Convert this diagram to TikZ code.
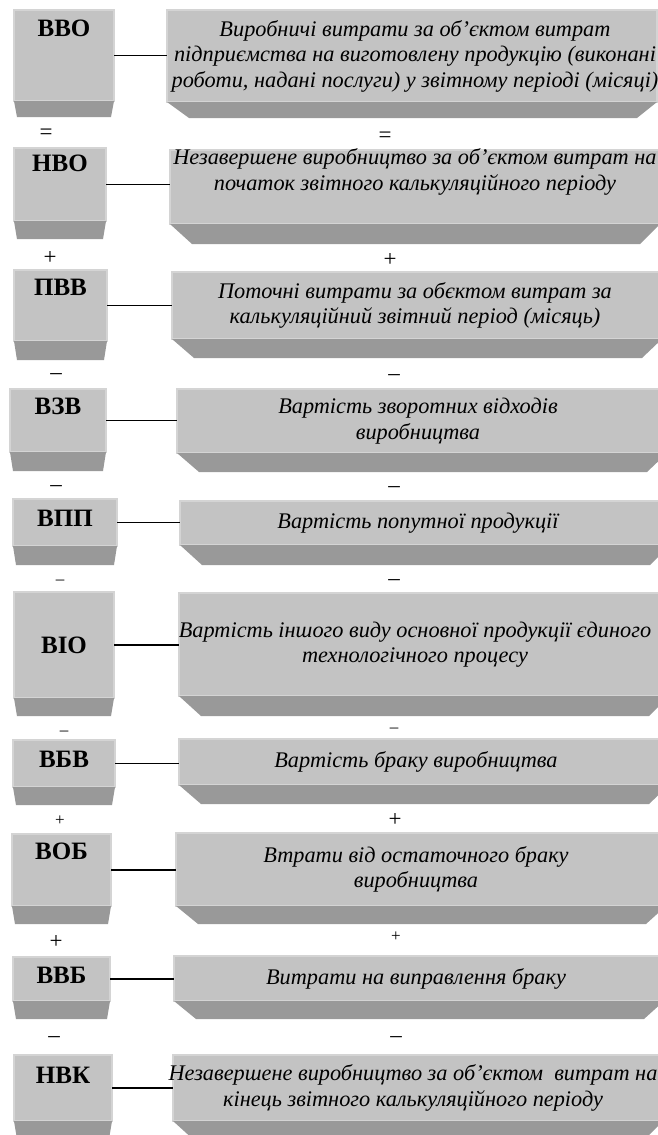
\documentclass[tikz,border=0pt]{standalone}
\usepackage{fontspec}
\setmainfont{Liberation Serif}
\usetikzlibrary{positioning}
\definecolor{boxgrey}{HTML}{C3C3C3}
\definecolor{boxrim}{HTML}{D4D4D4}
\definecolor{boxdark}{HTML}{999999}
\begin{document}
\begin{tikzpicture}[x=1pt,y=-1pt]
  % Define styles for nodes
  \tikzstyle{lbox} = [anchor=north west, rectangle, fill=boxgrey, draw=boxrim,
  line width=1.5pt, outer sep=0pt, inner sep=0pt]
  \tikzstyle{rbox} = [lbox, minimum width=490pt]
  \tikzstyle{rtext} = [inner sep=0pt, align=center,
  font=\fontsize{22.3}{25.5}\selectfont\itshape]
  \tikzstyle{lbl} = [inner sep=0pt, font=\fontsize{25}{28}\selectfont\bfseries]
  \tikzstyle{sign} = [inner sep=0pt, font=\fontsize{23}{24}\selectfont]
  \tikzstyle{small sign} = [inner sep=0pt, font=\fontsize{17}{18}\selectfont]
  \tikzstyle{skirt} = [fill=boxdark]
  \tikzstyle{link} = [line width=1.1pt]

  \useasboundingbox[fill=white] (0,0) rectangle (657,1135);

  % Left boxes
  \node[lbox, minimum width=100pt, minimum height=91pt] (vvo) at (14,10) {};
  \node[lbox, minimum width=92pt, minimum height=73pt] (nvo) at (14,148) {};
  \node[lbox, minimum width=93pt, minimum height=71pt] (pvv) at (14,270) {};
  \node[lbox, minimum width=96pt, minimum height=63pt] (vzv) at (10,389) {};
  \node[lbox, minimum width=104pt, minimum height=47pt] (vpp) at (13,499) {};
  \node[lbox, minimum width=100pt, minimum height=106pt] (vio) at (14,592) {};
  \node[lbox, minimum width=102pt, minimum height=47pt] (vbv) at (13,740) {};
  \node[lbox, minimum width=99pt, minimum height=72pt] (vob) at (12,834) {};
  \node[lbox, minimum width=97pt, minimum height=44pt] (vvb) at (13,957) {};
  \node[lbox, minimum width=98pt, minimum height=66pt] (nvk) at (14,1055) {};

  % Dark bottoms of the left boxes
  \fill[skirt] (vvo.south west) -- (vvo.south east) -- ([shift={(-3,16)}]vvo.south east) -- ([shift={(3,16)}]vvo.south west) -- cycle;
  \fill[skirt] (nvo.south west) -- (nvo.south east) -- ([shift={(-3,18)}]nvo.south east) -- ([shift={(3,18)}]nvo.south west) -- cycle;
  \fill[skirt] (pvv.south west) -- (pvv.south east) -- ([shift={(-3,19)}]pvv.south east) -- ([shift={(3,19)}]pvv.south west) -- cycle;
  \fill[skirt] (vzv.south west) -- (vzv.south east) -- ([shift={(-3,19)}]vzv.south east) -- ([shift={(3,19)}]vzv.south west) -- cycle;
  \fill[skirt] (vpp.south west) -- (vpp.south east) -- ([shift={(-3,19)}]vpp.south east) -- ([shift={(3,19)}]vpp.south west) -- cycle;
  \fill[skirt] (vio.south west) -- (vio.south east) -- ([shift={(-3,18)}]vio.south east) -- ([shift={(3,18)}]vio.south west) -- cycle;
  \fill[skirt] (vbv.south west) -- (vbv.south east) -- ([shift={(-3,18)}]vbv.south east) -- ([shift={(3,18)}]vbv.south west) -- cycle;
  \fill[skirt] (vob.south west) -- (vob.south east) -- ([shift={(-3,18)}]vob.south east) -- ([shift={(3,18)}]vob.south west) -- cycle;
  \fill[skirt] (vvb.south west) -- (vvb.south east) -- ([shift={(-3,18)}]vvb.south east) -- ([shift={(3,18)}]vvb.south west) -- cycle;
  \fill[skirt] (nvk.south west) -- (nvk.south east) -- ([shift={(-3,18)}]nvk.south east) -- ([shift={(3,18)}]nvk.south west) -- cycle;

  % Labels of the left boxes
  \node[lbl, below=10pt of vvo.north] (vvo-l) {ВВО};
  \node[lbl, below=7pt of nvo.north] (nvo-l) {НВО};
  \node[lbl, below=9pt of pvv.north] (pvv-l) {ПВВ};
  \node[lbl, below=9pt of vzv.north] (vzv-l) {ВЗВ};
  \node[lbl, below=11pt of vpp.north] (vpp-l) {ВПП};
  \node[lbl] (vio-l) at (vio) {ВІО};
  \node[lbl, below=11pt of vbv.north] (vbv-l) {ВБВ};
  \node[lbl, below=9pt of vob.north] (vob-l) {ВОБ};
  \node[lbl, below=10pt of vvb.north] (vvb-l) {ВВБ};
  \node[lbl, below=12pt of nvk.north] (nvk-l) {НВК};

  % Right boxes
  \node[rbox, minimum height=92pt] (vvo-r) at (167,10) {};
  \node[rbox, minimum height=74pt] (nvo-r) at (170,150) {};
  \node[rbox, minimum height=67pt] (pvv-r) at (172,272) {};
  \node[rbox, minimum height=64pt] (vzv-r) at (177,389) {};
  \node[rbox, minimum height=44pt] (vpp-r) at (180,501) {};
  \node[rbox, minimum height=103pt] (vio-r) at (179,593) {};
  \node[rbox, minimum height=46pt] (vbv-r) at (179,739) {};
  \node[rbox, minimum height=73pt] (vob-r) at (176,833) {};
  \node[rbox, minimum height=45pt] (vvb-r) at (174,956) {};
  \node[rbox, minimum height=66pt] (nvk-r) at (173,1055) {};

  % Dark bottoms of the right boxes
  \fill[skirt] (vvo-r.south west) -- (vvo-r.south east) -- ([shift={(-20,16)}]vvo-r.south east) -- ([shift={(22,16)}]vvo-r.south west) -- cycle;
  \fill[skirt] (nvo-r.south west) -- (nvo-r.south east) -- ([shift={(-20,20)}]nvo-r.south east) -- ([shift={(22,20)}]nvo-r.south west) -- cycle;
  \fill[skirt] (pvv-r.south west) -- (pvv-r.south east) -- ([shift={(-20,19)}]pvv-r.south east) -- ([shift={(22,19)}]pvv-r.south west) -- cycle;
  \fill[skirt] (vzv-r.south west) -- (vzv-r.south east) -- ([shift={(-20,19)}]vzv-r.south east) -- ([shift={(22,19)}]vzv-r.south west) -- cycle;
  \fill[skirt] (vpp-r.south west) -- (vpp-r.south east) -- ([shift={(-20,20)}]vpp-r.south east) -- ([shift={(22,20)}]vpp-r.south west) -- cycle;
  \fill[skirt] (vio-r.south west) -- (vio-r.south east) -- ([shift={(-20,20)}]vio-r.south east) -- ([shift={(22,20)}]vio-r.south west) -- cycle;
  \fill[skirt] (vbv-r.south west) -- (vbv-r.south east) -- ([shift={(-20,19)}]vbv-r.south east) -- ([shift={(22,19)}]vbv-r.south west) -- cycle;
  \fill[skirt] (vob-r.south west) -- (vob-r.south east) -- ([shift={(-20,18)}]vob-r.south east) -- ([shift={(22,18)}]vob-r.south west) -- cycle;
  \fill[skirt] (vvb-r.south west) -- (vvb-r.south east) -- ([shift={(-20,18)}]vvb-r.south east) -- ([shift={(22,18)}]vvb-r.south west) -- cycle;
  \fill[skirt] (nvk-r.south west) -- (nvk-r.south east) -- ([shift={(-20,20)}]nvk-r.south east) -- ([shift={(22,20)}]nvk-r.south west) -- cycle;

  % Texts of the right boxes
  \node[rtext] (vvo-t) at (vvo-r.center -| 415,0) {Виробничі витрати за об’єктом витрат\\ підприємства на виготовлену продукцію (виконані\\ роботи, надані послуги) у звітному періоді (місяці)};
  \node[rtext] (nvo-t) at ([yshift=15pt]nvo-r.center -| 415,0) {Незавершене виробництво за об’єктом витрат на\\ початок звітного калькуляційного періоду};
  \node[rtext] (pvv-t) at (pvv-r.center -| 415,0) {Поточні витрати за обєктом витрат за\\ калькуляційний звітний період (місяць)};
  \node[rtext] (vzv-t) at (vzv-r.center -| 418,0) {Вартість зворотних відходів\\ виробництва};
  \node[rtext] (vpp-t) at (vpp-r.center -| 418,0) {Вартість попутної продукції};
  \node[rtext] (vio-t) at (vio-r.center -| 415,0) {Вартість іншого виду основної продукції єдиного\\ технологічного процесу};
  \node[rtext] (vbv-t) at (vbv-r.center -| 416,0) {Вартість браку виробництва};
  \node[rtext] (vob-t) at (vob-r.center -| 416,0) {Втрати від остаточного браку\\ виробництва};
  \node[rtext] (vvb-t) at (vvb-r.center -| 416,0) {Витрати на виправлення браку};
  \node[rtext] (nvk-t) at (nvk-r.center -| 413,0) {Незавершене виробництво за об’єктом~ витрат на\\ кінець звітного калькуляційного періоду};

  % Connections
  \draw[link] (vvo.east) -- (vvo.east -| vvo-r.west);
  \draw[link] (nvo.east) -- (nvo.east -| nvo-r.west);
  \draw[link] (pvv.east) -- (pvv.east -| pvv-r.west);
  \draw[link] (vzv.east) -- (vzv.east -| vzv-r.west);
  \draw[link] (vpp.east) -- (vpp.east -| vpp-r.west);
  \draw[link] (vio.east) -- (vio.east -| vio-r.west);
  \draw[link] (vbv.east) -- (vbv.east -| vbv-r.west);
  \draw[link] (vob.east) -- (vob.east -| vob-r.west);
  \draw[link] (vvb.east) -- (vvb.east -| vvb-r.west);
  \draw[link] (nvk.east) -- (nvk.east -| nvk-r.west);

  % Signs between the rows
  \node[sign] (s1) at (46,134) {=};
  \node[sign] (s1-r) at (385,137) {=};
  \node[sign] (s2) at (50,258) {+};
  \node[sign] (s2-r) at (390,260) {+};
  \node[sign] (s3) at (56,377) {–};
  \node[sign] (s3-r) at (394,378) {–};
  \node[sign] (s4) at (56,489) {–};
  \node[sign] (s4-r) at (394,490) {–};
  \node[small sign] (s5) at (60,582) {–};
  \node[sign] (s5-r) at (394,583) {–};
  \node[small sign] (s6) at (64,733) {–};
  \node[small sign] (s6-r) at (394,730) {–};
  \node[small sign] (s7) at (60,821) {+};
  \node[sign] (s7-r) at (395,820) {+};
  \node[sign] (s8) at (56,942) {+};
  \node[small sign] (s8-r) at (396,937) {+};
  \node[sign] (s9) at (54,1040) {–};
  \node[sign] (s9-r) at (396,1040) {–};
\end{tikzpicture}
\end{document}
